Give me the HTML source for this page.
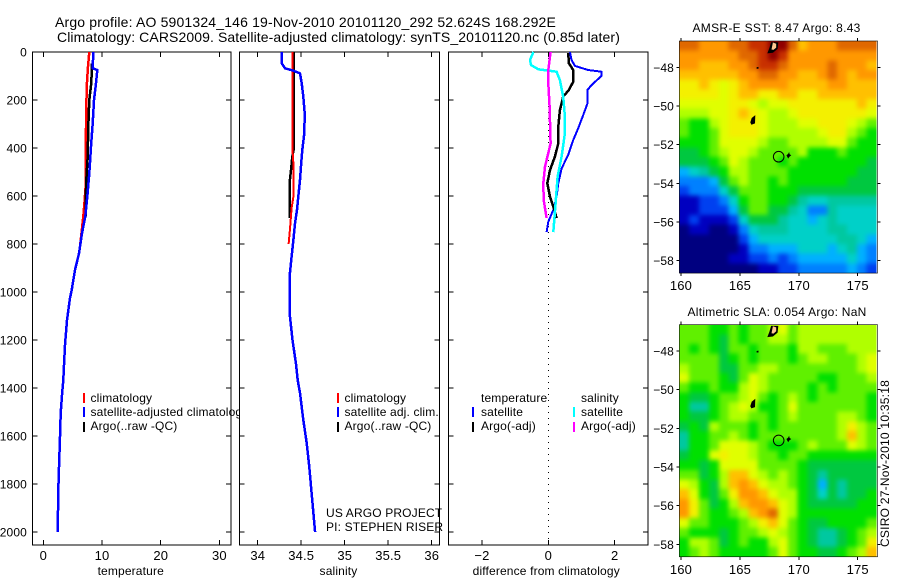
<!DOCTYPE html>
<html lang="en">
<head>
<meta charset="utf-8">
<title>Argo profile</title>
<style>
html,body{margin:0;padding:0;background:#fff;}
svg{display:block;}
text{font-family:"Liberation Sans",sans-serif;font-size:12px;fill:#000;letter-spacing:0.15px;}
</style>
</head>
<body>
<svg id="chart" xmlns="http://www.w3.org/2000/svg" width="900" height="580" viewBox="0 0 900 580">
<defs>
<filter id="map-smooth" filterUnits="userSpaceOnUse" x="640" y="0" width="260" height="580" color-interpolation-filters="sRGB">
<feGaussianBlur stdDeviation="2.4"/>
<feComponentTransfer><feFuncA type="linear" slope="40" intercept="0"/></feComponentTransfer>
</filter>
</defs>
<rect x="0" y="0" width="900" height="580" fill="#fff"/>
<text x="55" y="27" font-size="14" style="font-size:14px" textLength="501" lengthAdjust="spacing">Argo profile: AO 5901324_146 19-Nov-2010 20101120_292 52.624S 168.292E</text>
<text x="57" y="42" font-size="14" style="font-size:14px" textLength="563" lengthAdjust="spacing">Climatology: CARS2009. Satellite-adjusted climatology: synTS_20101120.nc (0.85d later)</text>
<g id="panels"></g>
<g id="maps"></g>
<text transform="translate(889,547) rotate(-90)" textLength="167" lengthAdjust="spacing">CSIRO 27-Nov-2010 10:35:18</text>
</svg>
<script>
// ---- profile tick labels ----
const depthTicks = [0,200,400,600,800,1000,1200,1400,1600,1800,2000];
const tempTicks = [0,10,20,30];
const salTicks = [34,34.5,35,35.5,36];
const diffTicks = [-2,0,2];

// ---- temperature profiles ----
const tempClimDepth = [0,61,144,394,561,631,686,800];
const tempClimValue = [7.84,7.62,7.39,7.22,7.2,7.0,6.82,6.3];
const tempArgoDepth = [47,130,200,311,436,533,617,686];
const tempArgoValue = [8.3,8.18,7.84,7.67,7.56,7.33,7.22,7.27];
const tempSatDepth = [0,68,75,130,200,297,394,506,603,686,755,839,908,992,1025,1117,1221,1304,1367,1429,1504,1604,1729,1825,2000];
const tempSatValue = [8.52,8.41,9.2,8.98,8.64,8.41,8.13,7.84,7.5,7.16,6.59,6.08,5.4,4.83,4.55,4.04,3.7,3.53,3.41,3.19,2.96,2.85,2.67,2.56,2.45];

// ---- salinity profiles ----
const salArgoDepth = [0,408,436,492,533,692];
const salArgoValue = [34.413,34.413,34.398,34.383,34.37,34.37];
const salClimDepth = [0,408,464,603,650,742,800];
const salClimValue = [34.4,34.4,34.41,34.41,34.39,34.37,34.355];
const salSatDepth = [0,47,68,78,89,130,186,256,339,408,464,533,603,658,714,783,853,922,1026,1100,1200,1300,1367,1421,1533,1629,1729,1838,2000];
const salSatValue = [34.276,34.276,34.314,34.41,34.486,34.506,34.524,34.54,34.536,34.513,34.5,34.486,34.467,34.452,34.429,34.41,34.39,34.37,34.37,34.37,34.4,34.44,34.46,34.486,34.524,34.563,34.593,34.62,34.66];

// ---- differences from climatology ----
const diffTempSatDepth = [0,33,58,75,82,100,138,158,214,263,318,367,429,485,547,603,658,707,751];
const diffTempSatValue = [0.65,0.7,0.8,1.2,1.6,1.6,1.3,1.18,1.18,1.05,0.9,0.75,0.6,0.4,0.3,0.25,0.15,0,-0.05];
const diffTempArgoDepth = [4,47,75,124,158,186,242,311,381,436,492,547,603,644,692];
const diffTempArgoValue = [0.6,0.62,0.75,0.75,0.62,0.45,0.35,0.3,0.3,0.2,0.05,-0.03,0.05,0.15,0.25];
const diffSalSatDepth = [0,33,54,72,82,117,186,269,339,436,519,630,751];
const diffSalSatValue = [-0.45,-0.55,-0.52,-0.3,0.25,0.35,0.45,0.5,0.5,0.4,0.28,0.22,0.15];
const diffSalArgoDepth = [0,75,130,228,339,381,478,547,617,692];
const diffSalArgoValue = [0.07,0,0,0.04,0.06,0.07,-0.1,-0.15,-0.14,-0.05];

// ---- map tick labels ----
const lonTicks = [160,165,170,175];
const latTicks = [-48,-50,-52,-54,-56,-58];

// ---- map colour levels ----
const mapColours = ['#000080','#0000c0','#0040f0','#0080ff','#00b0ff','#00d0c8','#00c8a0','#00c840','#00e000','#60f000','#b0ff00','#e0ff00','#f4f000','#ffc000','#ff9800','#e06800','#c83000','#900000'];

// ---- AMSR-E SST grid (colour level per cell, north to south) ----
const sstGrid = [
[15,15,14,14,14,15,15,16,16,17,17,15,13,14,14,14,15,15,15,15],
[14,14,14,14,14,14,15,15,16,17,16,14,14,14,14,14,14,14,14,14],
[14,14,13,13,13,14,14,15,16,16,15,14,14,14,14,15,14,14,14,13],
[13,13,13,13,13,13,14,14,15,15,14,14,13,13,14,15,14,13,14,14],
[12,12,13,12,11,12,13,14,14,14,14,13,13,13,13,14,14,13,13,13],
[12,12,12,12,11,12,13,13,12,12,13,13,12,12,13,13,13,13,13,13],
[11,11,11,11,11,12,12,11,10,11,11,12,12,12,12,12,12,12,13,12],
[10,10,10,11,11,12,13,12,11,10,10,11,12,12,12,12,12,12,12,11],
[9,8,8,10,11,12,12,12,11,10,10,10,11,11,12,12,12,11,10,9],
[9,8,8,9,11,12,12,12,11,10,10,10,10,10,11,12,12,10,9,8],
[8,8,8,9,11,11,11,11,10,9,9,10,10,10,10,11,11,9,8,8],
[7,7,8,9,10,11,11,10,9,9,9,9,10,8,8,8,9,8,8,8],
[7,7,7,8,9,11,10,9,9,9,8,9,8,8,8,8,8,8,8,7],
[4,5,6,7,8,10,10,9,9,9,9,8,8,8,8,8,8,8,7,7],
[3,3,3,4,7,9,10,9,9,8,9,8,8,8,8,8,8,7,7,7],
[2,3,3,3,5,7,9,9,9,8,8,8,7,7,7,7,7,7,7,7],
[1,1,2,2,3,5,8,9,9,8,8,7,6,5,5,6,6,6,6,6],
[1,1,2,2,2,4,7,9,9,7,7,6,5,3,3,6,5,5,5,5],
[1,2,1,1,1,2,5,7,7,7,6,5,5,4,5,6,5,5,5,5],
[0,1,1,0,0,1,3,5,6,6,6,5,5,5,5,6,6,5,5,5],
[0,0,0,0,0,0,2,4,5,5,5,5,5,5,5,5,6,6,5,4],
[0,0,0,0,0,0,1,3,3,4,4,4,5,5,5,4,5,6,4,3],
[0,0,0,0,0,1,1,2,2,3,2,3,4,4,4,4,4,5,4,3],
[0,0,0,0,0,0,0,0,1,1,2,2,3,3,3,3,3,4,3,2]
];

// ---- altimetric SLA grid (colour level per cell, north to south) ----
const slaGrid = [
[9,9,9,8,8,9,8,9,9,10,11,9,10,10,10,10,10,10,10,10],
[9,9,9,8,7,9,8,9,9,10,10,9,10,10,10,10,10,10,10,10],
[9,8,9,8,7,9,9,8,9,9,9,8,10,10,9,9,9,10,10,10],
[9,9,9,9,7,8,9,8,9,9,9,8,9,10,10,9,9,9,10,11],
[10,9,9,9,7,7,9,9,10,10,9,9,9,9,9,9,9,9,10,11],
[11,9,9,9,8,7,9,11,10,9,9,9,9,9,8,8,9,9,9,10],
[9,8,8,9,8,8,10,11,10,9,9,9,9,8,9,8,9,9,9,9],
[8,7,7,8,9,9,10,11,9,8,9,10,9,8,9,9,9,9,9,8],
[8,6,6,8,9,10,11,10,8,8,9,11,9,9,9,9,9,9,9,8],
[8,7,7,8,9,10,10,9,9,8,9,10,9,9,9,9,10,10,9,8],
[7,8,7,10,9,9,9,8,9,8,9,9,9,9,9,9,10,12,10,9],
[6,8,8,9,9,10,9,8,9,9,9,9,9,9,9,9,10,13,10,9],
[6,8,8,9,11,11,11,10,9,8,8,8,9,10,9,9,9,11,10,9],
[7,8,8,11,12,11,11,10,9,9,8,9,9,8,8,8,8,8,8,8],
[8,8,7,8,11,11,11,11,9,9,9,9,8,7,7,7,7,7,7,7],
[9,9,7,8,10,13,13,11,10,9,10,9,8,7,6,7,7,7,7,7],
[11,10,8,7,10,13,14,13,11,10,10,9,8,7,4,7,6,7,7,7],
[13,11,8,7,9,12,14,14,13,11,10,10,8,7,5,7,6,7,7,8],
[14,12,9,7,8,10,13,14,14,13,11,10,8,7,7,7,7,7,8,8],
[14,12,9,8,8,9,10,13,14,15,11,10,8,8,8,8,8,8,8,8],
[11,9,9,8,8,8,9,10,12,13,11,9,8,7,7,8,8,8,8,9],
[9,8,8,8,7,8,9,9,10,11,10,9,8,7,6,6,7,8,9,10],
[8,10,10,9,7,8,9,8,8,10,11,9,8,7,6,6,7,8,9,12],
[8,9,10,9,8,8,8,8,8,9,11,9,8,8,7,7,8,9,10,13]
];

// ---- float position and coastline outlines (lon, lat) ----
const floatLon = 168.292;
const floatLat = -52.624;
const stewartLand = [[167.33,-47.28],[167.5,-47.0],[167.65,-46.7],[168.26,-46.7],[168.2,-47.05],[167.8,-47.25]];
const stewartInner = [[167.68,-47.08],[167.8,-46.72],[168.08,-46.78],[168.08,-46.98],[167.85,-47.1]];
const aucklandLand = [[165.88,-50.85],[166.0,-50.62],[166.31,-50.47],[166.28,-50.9],[165.98,-50.97]];
const campbellLand = [[168.95,-52.55],[169.1,-52.48],[169.18,-52.38],[169.22,-52.5],[169.36,-52.55],[169.2,-52.62],[169.1,-52.72]];
const snaresLand = [[166.42,-48.0],[166.58,-47.98],[166.58,-48.08],[166.42,-48.08]];

const NS = 'http://www.w3.org/2000/svg';
function mk(parent, tag, attrs) {
  const el = document.createElementNS(NS, tag);
  for (const k in attrs) el.setAttribute(k, attrs[k]);
  parent.appendChild(el);
  return el;
}
const panelsG = document.getElementById('panels');
const mapsG = document.getElementById('maps');

// ---- profile panels ----
const yTop = 52, yBottom = 545;
function depthY(d) { return 52 + d * 0.24; }
function tempX(v) { return 43.3 + v * 5.87; }
function salX(v) { return 344.7 + (v - 35) * 87; }
function diffX(v) { return 548.3 + v * 33.2; }

function drawFrame(g, x0, x1, xTicks, xScale, xLabel, showDepthLabels) {
  const bg = mk(g, 'rect', {x:x0, y:yTop, width:x1-x0, height:yBottom-yTop, fill:'#fff', stroke:'#000', 'stroke-width':1, 'shape-rendering':'crispEdges'});
  
  
  depthTicks.forEach(function (d) {
    const y = depthY(d);
    const t = mk(g, 'path', {d:'M'+x0+' '+y+'h5M'+x1+' '+y+'h-5', stroke:'#000', fill:'none', 'shape-rendering':'crispEdges'});
    
    
    if (showDepthLabels) {
      const l = mk(g, 'text', {x:27, y:y+4.5, 'text-anchor':'end'});
      l.textContent = d;
      
      
    }
  });
  xTicks.forEach(function (v) {
    const x = xScale(v);
    const t = mk(g, 'path', {d:'M'+x+' '+yTop+'v5M'+x+' '+yBottom+'v-5', stroke:'#000', fill:'none', 'shape-rendering':'crispEdges'});
    
    
    const l = mk(g, 'text', {x:x, y:560, 'text-anchor':'middle', style:'font-size:13px'});
    l.textContent = String(v).replace('-', '\u2212');
    
    
  });
  const xt = mk(g, 'text', {x:(x0+x1)/2 - (x0 === 448.5 ? 2 : 1), y:575, 'text-anchor':'middle'});
  xt.textContent = xLabel;
  
  
}

function drawLine(g, depths, values, xScale, colour, width, name) {
  const pts = depths.map(function (d, i) { return xScale(values[i]).toFixed(1) + ',' + depthY(d).toFixed(1); }).join(' ');
  const line = mk(g, 'polyline', {points:pts, fill:'none', stroke:colour, 'stroke-width':width, 'stroke-linejoin':'round', 'shape-rendering':'crispEdges'});
  
  
}

function legendKey(g, x, yA, colour, name) {
  const k = mk(g, 'rect', {x:x, y:yA, width:2, height:10, fill:colour, 'shape-rendering':'crispEdges'});
  
  
}
function legendText(g, x, y, str, name) {
  const t = mk(g, 'text', {x:x, y:y});
  t.textContent = str;
  
  
}

// temperature panel
const p1 = mk(panelsG, 'g', {});


drawFrame(p1, 32.5, 231, tempTicks, tempX, 'temperature', true);
drawLine(p1, tempClimDepth, tempClimValue, tempX, '#f00', 2.5, 'temperature-climatology-line');
drawLine(p1, tempArgoDepth, tempArgoValue, tempX, '#000', 2.5, 'temperature-argo-line');
drawLine(p1, tempSatDepth, tempSatValue, tempX, '#00f', 2.5, 'temperature-satellite-line');
legendKey(p1, 83, 393, '#f00', 'legend-key-climatology');
legendKey(p1, 83, 407, '#00f', 'legend-key-satellite');
legendKey(p1, 83, 422, '#000', 'legend-key-argo');
legendText(p1, 90.5, 402, 'climatology', 'legend-label-climatology');
legendText(p1, 90.5, 416, 'satellite-adjusted climatology', 'legend-label-satellite');
legendText(p1, 90.5, 430, 'Argo(..raw -QC)', 'legend-label-argo');

// salinity panel
const p2 = mk(panelsG, 'g', {});


drawFrame(p2, 239.5, 439.5, salTicks, salX, 'salinity', false);
drawLine(p2, salArgoDepth, salArgoValue, salX, '#000', 2.5, 'salinity-argo-line');
drawLine(p2, salClimDepth, salClimValue, salX, '#f00', 2, 'salinity-climatology-line');
drawLine(p2, salSatDepth, salSatValue, salX, '#00f', 2.5, 'salinity-satellite-line');
legendKey(p2, 337, 393, '#f00', 'legend-key-climatology');
legendKey(p2, 337, 407, '#00f', 'legend-key-satellite');
legendKey(p2, 337, 422, '#000', 'legend-key-argo');
legendText(p2, 344.5, 402, 'climatology', 'legend-label-climatology');
legendText(p2, 344.5, 416, 'satellite adj. clim.', 'legend-label-satellite');
legendText(p2, 344.5, 430, 'Argo(..raw -QC)', 'legend-label-argo');
legendText(p2, 326, 517, 'US ARGO PROJECT', 'project-label');
legendText(p2, 326, 531, 'PI: STEPHEN RISER', 'pi-label');

// difference panel
const p3 = mk(panelsG, 'g', {});


drawFrame(p3, 448.5, 648, diffTicks, diffX, 'difference from climatology', false);
const zero = mk(p3, 'line', {x1:diffX(0), x2:diffX(0), y1:yTop, y2:yBottom, stroke:'#000', 'stroke-width':1, 'stroke-dasharray':'1 5', 'shape-rendering':'crispEdges'});


drawLine(p3, diffTempSatDepth, diffTempSatValue, diffX, '#00f', 2, 'difference-temperature-satellite-line');
drawLine(p3, diffTempArgoDepth, diffTempArgoValue, diffX, '#000', 2.5, 'difference-temperature-argo-line');
drawLine(p3, diffSalSatDepth, diffSalSatValue, diffX, '#0ff', 2.5, 'difference-salinity-satellite-line');
drawLine(p3, diffSalArgoDepth, diffSalArgoValue, diffX, '#f0f', 2.5, 'difference-salinity-argo-line');
legendText(p3, 481, 402, 'temperature', 'legend-heading-temperature');
legendText(p3, 581, 402, 'salinity', 'legend-heading-salinity');
legendKey(p3, 472, 407, '#00f', 'legend-key-temperature-satellite');
legendKey(p3, 472, 422, '#000', 'legend-key-temperature-argo');
legendKey(p3, 573, 407, '#0ff', 'legend-key-salinity-satellite');
legendKey(p3, 573, 422, '#f0f', 'legend-key-salinity-argo');
legendText(p3, 481, 416, 'satellite', 'legend-label-temperature-satellite');
legendText(p3, 481, 430, 'Argo(-adj)', 'legend-label-temperature-argo');
legendText(p3, 581, 416, 'satellite', 'legend-label-salinity-satellite');
legendText(p3, 581, 430, 'Argo(-adj)', 'legend-label-salinity-argo');

// ---- map panels ----
const lonStart = 159.86, lonEnd = 176.6, latStart = -46.64, latEnd = -58.64;
function lonX(lon) { return 681 + (lon - 160) * 11.78; }

function drawOutline(g, latY, coords, fill, name) {
  const pts = coords.map(function (c) { return lonX(c[0]).toFixed(1) + ',' + latY(c[1]).toFixed(1); }).join(' ');
  const p = mk(g, 'polygon', {points:pts, fill:fill});
  
  
}

function drawMap(name, grid, lat48Y, title, titleWidth, titleX, titleY, xLabelY) {
  const latY = function (lat) { return lat48Y + (-48 - lat) * 19.34; };
  const g = mk(mapsG, 'g', {});
  
  
  const rows = grid.length, cols = grid[0].length;
  const dLon = (lonEnd - lonStart) / cols, dLat = (latStart - latEnd) / rows;
  const top = latY(latStart), bottom = latY(latEnd), left = lonX(lonStart), right = 877.5;

  const clip = mk(g, 'clipPath', {id:name + '-clip'});
  mk(clip, 'rect', {x:left, y:top, width:lonX(lonEnd)-left, height:bottom-top});
  const clipped = mk(g, 'g', {'clip-path':'url(#' + name + '-clip)'});
  
  
  const cells = mk(clipped, 'g', {filter:'url(#map-smooth)'});
  
  

  grid.forEach(function (row, r) {
    row.forEach(function (level, c) {
      const x0 = lonX(lonStart + c * dLon), x1 = lonX(lonStart + (c + 1) * dLon);
      const y0 = latY(latStart - r * dLat), y1 = latY(latStart - (r + 1) * dLat);
      const cell = mk(cells, 'rect', {x:x0.toFixed(2), y:y0.toFixed(2), width:(x1-x0+0.4).toFixed(2), height:(y1-y0+0.4).toFixed(2), fill:mapColours[level], 'shape-rendering':'crispEdges'});
      
      
    });
  });
  const frame = mk(g, 'rect', {x:left, y:top, width:right-left, height:bottom-top, fill:'none', stroke:'#000', 'stroke-width':0.6});
  
  
  lonTicks.forEach(function (lon) {
    const x = lonX(lon);
    const t = mk(g, 'path', {d:'M'+x+' '+top+'v-3M'+x+' '+bottom+'v3', stroke:'#000', fill:'none', 'shape-rendering':'crispEdges'});
    
    
    const l = mk(g, 'text', {x:x, y:xLabelY, 'text-anchor':'middle', style:'font-size:13px'});
    l.textContent = lon;
    
    
  });
  latTicks.forEach(function (lat) {
    const y = latY(lat);
    const t = mk(g, 'path', {d:'M'+left+' '+y+'h-3M'+right+' '+y+'h3', stroke:'#000', fill:'none', 'shape-rendering':'crispEdges'});
    
    
    const l = mk(g, 'text', {x:674, y:y+4.5, 'text-anchor':'end'});
    l.textContent = String(lat).replace('-', '\u2212');
    
    
  });
  drawOutline(g, latY, stewartLand, '#000', 'stewart-island');
  drawOutline(g, latY, stewartInner, '#ffc890', 'stewart-island-land');
  drawOutline(g, latY, aucklandLand, '#000', 'auckland-island');
  drawOutline(g, latY, campbellLand, '#000', 'campbell-island');
  drawOutline(g, latY, snaresLand, '#000', 'snares-island');
  const mark = mk(g, 'circle', {cx:lonX(floatLon), cy:latY(floatLat), r:5.3, fill:'none', stroke:'#000', 'stroke-width':1});
  
  
  const tt = mk(g, 'text', {x:titleX, y:titleY, textLength:titleWidth, lengthAdjust:'spacing'});
  tt.textContent = title;
  
  
}

drawMap('sst-map', sstGrid, 67.3, 'AMSR-E SST: 8.47  Argo: 8.43', 168, 692.5, 32, 290);
drawMap('sla-map', slaGrid, 351, 'Altimetric SLA: 0.054  Argo: NaN', 179, 687.5, 316, 574);
</script>
</body>
</html>
